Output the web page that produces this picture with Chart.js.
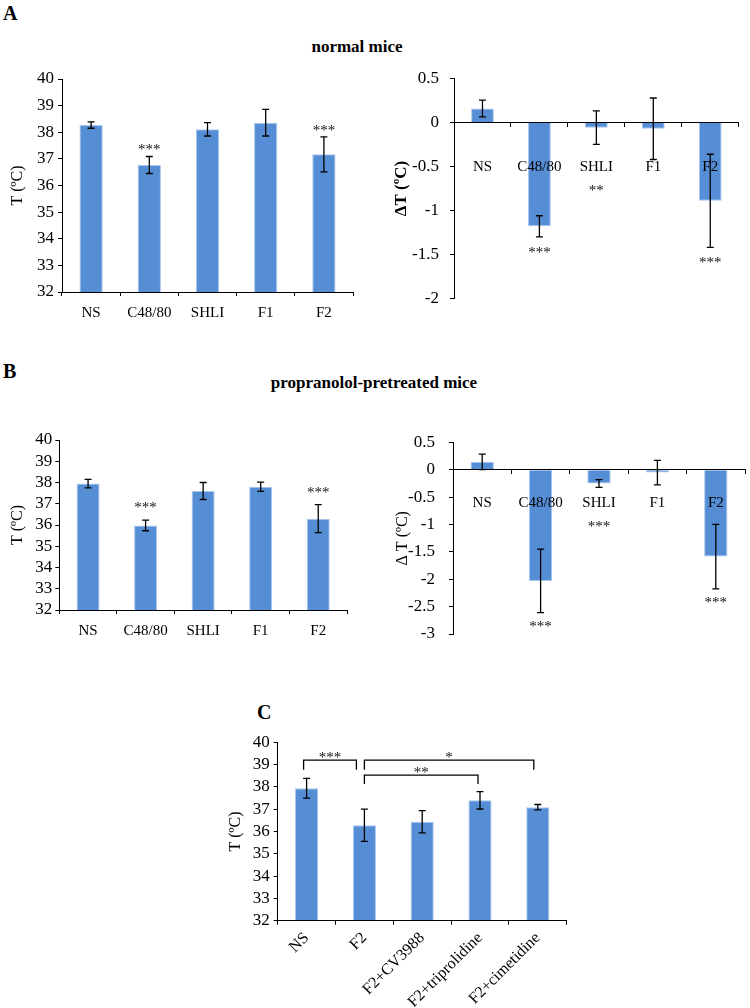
<!DOCTYPE html>
<html><head><meta charset="utf-8">
<script src="https://cdn.jsdelivr.net/npm/chart.js@4/dist/chart.umd.min.js"></script>
<style>
html,body{margin:0;padding:0;background:#fff;}
body{width:750px;height:1008px;position:relative;overflow:hidden;font-family:'Liberation Serif','Times New Roman',serif;}
canvas{position:absolute;}
.lbl{position:absolute;font-weight:bold;color:#000;white-space:nowrap;line-height:1;}
</style></head><body>
<div class="lbl" style="left:3px;top:3px;font-size:20px;">A</div>
<div class="lbl" style="left:257px;width:200px;text-align:center;top:38px;font-size:17px;">normal mice</div>
<div class="lbl" style="left:3px;top:361px;font-size:20px;">B</div>
<div class="lbl" style="left:224px;width:300px;text-align:center;top:374px;font-size:17px;">propranolol-pretreated mice</div>
<div class="lbl" style="left:257px;top:702px;font-size:20px;">C</div>
<canvas id="cA1" width="365" height="270" style="left:0;top:60px"></canvas>
<canvas id="cA2" width="375" height="250" style="left:375px;top:60px"></canvas>
<canvas id="cB1" width="360" height="220" style="left:0;top:420px"></canvas>
<canvas id="cB2" width="375" height="230" style="left:375px;top:420px"></canvas>
<canvas id="cC" width="380" height="308" style="left:200px;top:700px"></canvas>
<script>
// ---------- data ----------
const catsAB = ['NS', 'C48/80', 'SHLI', 'F1', 'F2'];
const tempNormal = [38.27, 36.77, 38.11, 38.36, 37.17];
const tempNormalErr = [0.12, 0.32, 0.25, 0.5, 0.66];
const sigTempNormal = ['', '***', '', '', '***'];
const dNormal = [0.16, -1.18, -0.057, -0.07, -0.89];
const dNormalErr = [0.095, 0.12, 0.19, 0.35, 0.53];
const sigDNormal = ['', '***', '**', '', '***'];
const tempProp = [37.95, 35.98, 37.6, 37.8, 36.3];
const tempPropErr = [0.2, 0.25, 0.4, 0.22, 0.66];
const sigTempProp = ['', '***', '', '', '***'];
const dProp = [0.146, -2.03, -0.25, -0.05, -1.585];
const dPropErr = [0.14, 0.58, 0.07, 0.225, 0.59];
const sigDProp = ['', '***', '***', '', '***'];
const catsC = ['NS', 'F2', 'F2+CV3988', 'F2+triprolidine', 'F2+cimetidine'];
const tempC = [37.94, 36.28, 36.44, 37.4, 37.09];
const tempCErr = [0.44, 0.72, 0.5, 0.39, 0.12];
const compC = [[0, 1, '***'], [1, 4, '*'], [1, 3, '**']];

// ---------- styling ----------
const FONT = "'Liberation Serif','Times New Roman',serif";
const BAR = '#558ed5';
const BAR_EDGE = '#a9c6ee';

const errPlugin = {
  id: 'errbars',
  afterDatasetsDraw(chart, args, o) {
    const ctx = chart.ctx, ys = chart.scales.y, xs = chart.scales.x;
    const ds = chart.data.datasets[0];
    const meta = chart.getDatasetMeta(0);
    ctx.save();
    ctx.strokeStyle = '#000'; ctx.lineWidth = 1.3;
    meta.data.forEach((bar, i) => {
      const v = ds.data[i], e = o.errors[i], x = bar.x;
      const y1 = ys.getPixelForValue(v + e), y2 = ys.getPixelForValue(v - e);
      ctx.beginPath();
      ctx.moveTo(x, y1); ctx.lineTo(x, y2);
      ctx.moveTo(x - 3.5, y1); ctx.lineTo(x + 3.5, y1);
      ctx.moveTo(x - 3.5, y2); ctx.lineTo(x + 3.5, y2);
      ctx.stroke();
    });
    // significance stars
    ctx.fillStyle = '#111';
    ctx.font = '15px ' + FONT;
    ctx.textAlign = 'center';
    ctx.textBaseline = 'alphabetic';
    const glyph = 7;
    if (o.stars) {
      meta.data.forEach((bar, i) => {
        const s = o.stars[i];
        if (!s) return;
        const v = ds.data[i], e = o.errors[i];
        let yc;
        if (o.starMode === 'above') {
          yc = ys.getPixelForValue(v + e) - o.starGap;
        } else {
          const labelC = ys.getPixelForValue(0) + 4 + o.xPad + 9;
          yc = Math.max(ys.getPixelForValue(v - e) + o.starGap, labelC + 21);
        }
        ctx.fillText(s, bar.x, yc + glyph);
      });
    }
    if (o.brackets) {
      ctx.lineWidth = 1.3;
      o.brackets.forEach((b, k) => {
        const g = o.bracketGeom[k];
        const x1 = xs.getPixelForValue(b[0]) + g.dx1;
        const x2 = xs.getPixelForValue(b[1]) + g.dx2;
        const yT = ys.getPixelForValue(g.top);
        const yL = ys.getPixelForValue(g.legL), yR = ys.getPixelForValue(g.legR);
        ctx.beginPath();
        ctx.moveTo(x1, yL); ctx.lineTo(x1, yT); ctx.lineTo(x2, yT); ctx.lineTo(x2, yR);
        ctx.stroke();
        ctx.fillText(b[2], (x1 + x2) / 2, yT - 5 + glyph);
      });
    }
    ctx.restore();
  }
};

function makeChart(id, c) {
  return new Chart(document.getElementById(id), {
    type: 'bar',
    data: {
      labels: c.labels,
      datasets: [{
        data: c.values, backgroundColor: BAR, borderColor: BAR_EDGE, borderWidth: 1,
        barPercentage: 0.4, categoryPercentage: 1
      }]
    },
    options: {
      responsive: false, animation: false, events: [],
      layout: { padding: c.pad },
      plugins: {
        legend: { display: false }, tooltip: { enabled: false },
        errbars: {
          errors: c.errors, stars: c.stars, starMode: c.starMode, starGap: c.starGap,
          xPad: c.xPad, brackets: c.brackets, bracketGeom: c.bracketGeom
        }
      },
      scales: {
        x: {
          position: c.zeroAxis ? { y: 0 } : 'bottom',
          grid: { drawOnChartArea: false, drawTicks: true, tickLength: 4, color: '#000', offset: true, z: 1 },
          border: { color: '#000', width: 1, z: 1 },
          ticks: {
            font: { family: FONT, size: c.xFont || 15 }, color: '#000', padding: c.xPad, autoSkip: false,
            maxRotation: c.rot || 0, minRotation: c.rot || 0, z: 1
          },
          afterFit: s => { s.height = c.xH; }
        },
        y: {
          min: c.min, max: c.max,
          grid: { drawOnChartArea: false, drawTicks: true, tickLength: 4, color: '#000' },
          border: { color: '#000', width: 1 },
          ticks: {
            stepSize: c.step, font: { family: FONT, size: 17 }, color: '#000', padding: c.yPad,
            autoSkip: false, callback: v => String(v)
          },
          title: {
            display: true, text: c.yTitle, color: '#000',
            font: { family: FONT, size: c.yTitleSize || 16, weight: c.yBold ? 'bold' : 'normal' },
            padding: { top: c.tPad, bottom: 0 }
          },
          afterFit: s => { s.width = c.yW; s.paddingTop = 0; s.paddingBottom = 0; }
        }
      }
    },
    plugins: [errPlugin]
  });
}

makeChart('cA1', {
  labels: catsAB, values: tempNormal, errors: tempNormalErr, stars: sigTempNormal,
  starMode: 'above', starGap: 9, min: 32, max: 40, step: 1,
  yTitle: 'T (ºC)', tPad: 8.4, yW: 62, yPad: 4, xH: 38, xPad: 8,
  pad: { top: 19, right: 12, bottom: 0, left: 0 }
});
makeChart('cA2', {
  labels: catsAB, values: dNormal, errors: dNormalErr, stars: sigDNormal,
  starMode: 'below', starGap: 13, min: -2, max: 0.5, step: 0.5, zeroAxis: true,
  yTitle: 'ΔT (ºC)', yBold: true, yTitleSize: 17, tPad: 16.8, yW: 79, yPad: 11, xH: 0, xPad: 31,
  pad: { top: 18.7, right: 8.3, bottom: 11.7, left: 0 }
});
makeChart('cB1', {
  labels: catsAB, values: tempProp, errors: tempPropErr, stars: sigTempProp,
  starMode: 'above', starGap: 15, min: 32, max: 40, step: 1,
  yTitle: 'T (ºC)', tPad: 8.4, yW: 59.3, yPad: 3, xH: 30, xPad: 8,
  pad: { top: 20, right: 13, bottom: 0, left: 0 }
});
makeChart('cB2', {
  labels: catsAB, values: dProp, errors: dPropErr, stars: sigDProp,
  starMode: 'below', starGap: 11, min: -3, max: 0.5, step: 0.5, zeroAxis: true,
  yTitle: 'Δ T (ºC)', tPad: 18.4, yW: 78, yPad: 14, xH: 0, xPad: 20,
  pad: { top: 22.5, right: 5, bottom: 16, left: 0 }
});
makeChart('cC', {
  labels: catsC, values: tempC, errors: tempCErr, min: 32, max: 40, step: 1,
  yTitle: 'T (ºC)', tPad: 26.4, yW: 77.7, yPad: 4, xH: 87.3, xPad: 4, rot: 45, xFont: 16,
  brackets: compC,
  bracketGeom: [
    { dx1: -3, dx2: -8, top: 39.2, legL: 38.77, legR: 38.77 },
    { dx1: 0, dx2: -4, top: 39.2, legL: 38.77, legR: 38.77 },
    { dx1: 0, dx2: -2, top: 38.53, legL: 38.13, legR: 38.13 }
  ],
  pad: { top: 42.3, right: 13.3, bottom: 0, left: 0 }
});
</script>
</body></html>
